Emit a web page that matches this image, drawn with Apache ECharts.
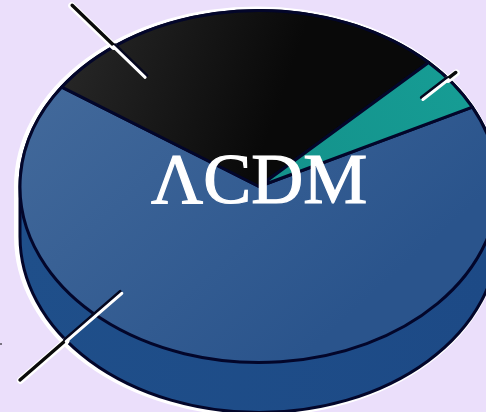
<!DOCTYPE html>
<html>
<head>
<meta charset="utf-8">
<style>html,body{margin:0;padding:0;background:#ebdffb;overflow:hidden}#chart{width:486px;height:412px}</style>
<script src="https://cdn.jsdelivr.net/npm/echarts@6/dist/echarts.min.js"></script>
</head>
<body>
<div id="chart"></div>
<script>
// Cosmic energy budget, drawn clockwise from the dark energy slice.
const categories = ['Dark energy', 'Dark matter', 'Ordinary matter'];
const shares = [67, 28, 5];
const modelName = '\u039BCDM';

// Tilted disc layout in pixels; angles run clockwise from the top of the disc.
const disc = { cx: 259, cy: 186.5, rx: 239, ry: 176, depth: 50, startAngle: 63.2 };
const leaderLayout = [
  { fromAngle: 223.8, from: 0.834, toAngle: 222.3, to: 1.486, edge: 0.55 },
  { fromAngle: 322.9, from: 0.784, toAngle: 322.8, to: 1.293, edge: 0.43 },
  { fromAngle: 53.8, from: 0.846, toAngle: 51.8, to: 1.048, edge: 0.76 }
];

const grad = (x, y, x2, y2, c0, c1) => ({
  type: 'linear', global: true, x, y, x2, y2,
  colorStops: [{ offset: 0, color: c0 }, { offset: 1, color: c1 }]
});
const sliceFills = [
  grad(60, 90, 300, 360, '#41689a', '#2a548c'),
  grad(70, 60, 270, 130, '#262626', '#090909'),
  grad(300, 170, 450, 80, '#14938c', '#169c94')
];

const total = shares.reduce((a, b) => a + b, 0);
const toPoint = (deg, r) => {
  const t = deg * Math.PI / 180;
  return [disc.cx + disc.rx * r * Math.sin(t), disc.cy - disc.ry * r * Math.cos(t)];
};
const sliceBounds = index => {
  let before = 0;
  for (let i = 0; i < index; i++) before += shares[i];
  return [disc.startAngle + before / total * 360, disc.startAngle + (before + shares[index]) / total * 360];
};

// Outline of the whole solid: upper rim, straight flanks, lower rim.
const bodyPath = () => {
  const { cx, cy, rx, ry, depth } = disc;
  return `M${cx - rx} ${cy}A${rx} ${ry} 0 0 1 ${cx + rx} ${cy}L${cx + rx} ${cy + depth}` +
    `A${rx} ${ry} 0 0 1 ${cx - rx} ${cy + depth}Z`;
};

const renderBody = () => ({
  type: 'group',
  children: [
    { type: 'path', x: -2, shape: { pathData: bodyPath() },
      style: { fill: '#ffffff', stroke: '#ffffff', lineWidth: 8 } },
    { type: 'path', shape: { pathData: bodyPath() },
      style: { fill: grad(20, 240, 486, 300, '#1f4f8a', '#1d4a86'), stroke: '#03062a', lineWidth: 3 } }
  ]
});

const renderSlice = params => {
  const [a0, a1] = sliceBounds(params.dataIndex);
  const p0 = toPoint(a0, 1);
  const p1 = toPoint(a1, 1);
  const large = a1 - a0 > 180 ? 1 : 0;
  return {
    type: 'path',
    shape: {
      pathData: `M${disc.cx} ${disc.cy}L${p0[0]} ${p0[1]}A${disc.rx} ${disc.ry} 0 ${large} 1 ${p1[0]} ${p1[1]}Z`
    },
    style: { fill: sliceFills[params.dataIndex], stroke: '#03062a', lineWidth: 3, lineJoin: 'round' }
  };
};

// Each leader is black with a white halo off the solid, and a black and white pair on it.
const renderLeader = params => {
  const l = leaderLayout[params.dataIndex];
  const a = toPoint(l.fromAngle, l.from);
  const b = toPoint(l.toAngle, l.to);
  const m = [a[0] + (b[0] - a[0]) * l.edge, a[1] + (b[1] - a[1]) * l.edge];
  const dx = b[0] - a[0], dy = b[1] - a[1], len = Math.hypot(dx, dy);
  let nx = -dy / len, ny = dx / len;
  if (ny < 0) { nx = -nx; ny = -ny; }
  const seg = (p, q, off, color, width) => ({
    type: 'line',
    shape: { x1: p[0] + nx * off, y1: p[1] + ny * off, x2: q[0] + nx * off, y2: q[1] + ny * off },
    style: { stroke: color, lineWidth: width, lineCap: 'round', fill: null }
  });
  return {
    type: 'group',
    children: [
      seg(m, b, 0.7, '#ffffff', 7),
      seg(m, b, 0, '#0a0a0a', 3.4),
      seg(a, m, -1.3, '#05071f', 3),
      seg(a, m, 1.2, '#ffffff', 3)
    ]
  };
};

const chart = echarts.init(document.getElementById('chart'), null, { renderer: 'canvas' });
const rows = shares.map((v, i) => ({ name: categories[i], value: [v] }));
chart.setOption({
  animation: false,
  backgroundColor: '#ebdffb',
  title: {
    text: modelName,
    left: 151,
    top: 148,
    padding: 0,
    itemGap: 0,
    textStyle: {
      fontFamily: 'Liberation Serif', fontSize: 72, fontWeight: 'normal', color: '#ffffff',
      textBorderColor: '#ffffff', textBorderWidth: 1.2
    }
  },
  series: [
    { type: 'custom', coordinateSystem: 'none', silent: true, renderItem: renderBody, data: [[1]] },
    { type: 'custom', coordinateSystem: 'none', silent: true, renderItem: renderSlice, data: rows },
    { type: 'custom', coordinateSystem: 'none', silent: true, renderItem: renderLeader, data: rows }
  ],
  graphic: [{
    type: 'line', silent: true,
    shape: { x1: 0, y1: 344, x2: 2, y2: 344 },
    style: { stroke: '#0a0a0a', lineWidth: 1.2 }
  }]
});
</script>
</body>
</html>
